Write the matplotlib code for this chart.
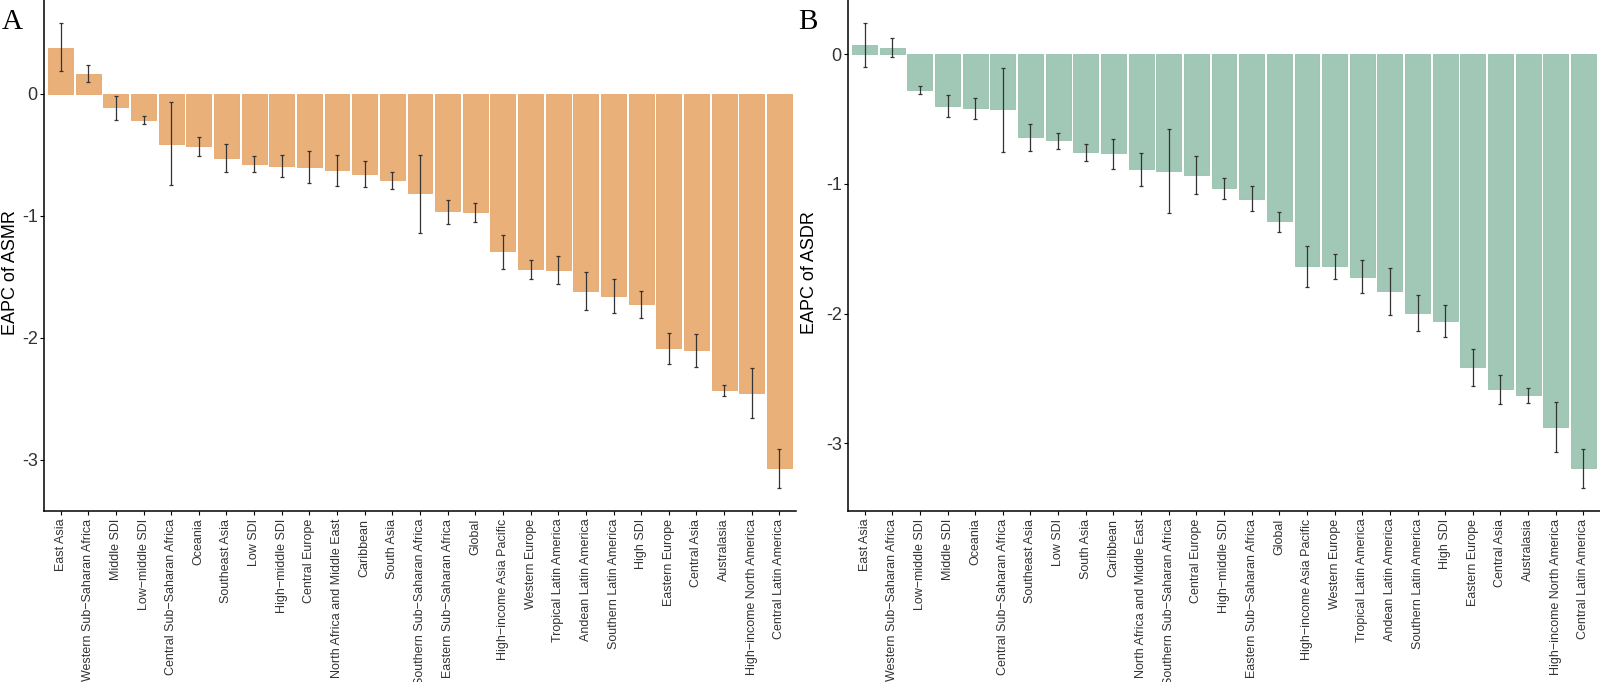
import matplotlib
matplotlib.use("Agg")
import matplotlib.pyplot as plt
import numpy as np

plt.rcParams['font.family'] = ['Liberation Sans', 'DejaVu Sans']

# ---------------- Panel A: EAPC of ASMR ----------------
cats_a = ["East Asia", "Western Sub\u2212Saharan Africa", "Middle SDI", "Low\u2212middle SDI",
          "Central Sub\u2212Saharan Africa", "Oceania", "Southeast Asia", "Low SDI",
          "High\u2212middle SDI", "Central Europe", "North Africa and Middle East", "Caribbean",
          "South Asia", "Southern Sub\u2212Saharan Africa", "Eastern Sub\u2212Saharan Africa", "Global",
          "High\u2212income Asia Pacific", "Western Europe", "Tropical Latin America",
          "Andean Latin America", "Southern Latin America", "High SDI", "Eastern Europe",
          "Central Asia", "Australasia", "High\u2212income North America", "Central Latin America"]
val_a = [0.38, 0.164, -0.11, -0.21, -0.41, -0.43, -0.525, -0.574, -0.59, -0.596, -0.623, -0.653,
         -0.705, -0.814, -0.962, -0.967, -1.29, -1.434, -1.443, -1.612, -1.656, -1.724, -2.079,
         -2.098, -2.426, -2.45, -3.066]
hi_a = [0.58, 0.24, -0.014, -0.18, -0.07, -0.355, -0.41, -0.51, -0.50, -0.467, -0.497, -0.546,
        -0.637, -0.50, -0.866, -0.891, -1.153, -1.361, -1.33, -1.456, -1.516, -1.612, -1.956,
        -1.967, -2.385, -2.25, -2.91]
lo_a = [0.19, 0.096, -0.21, -0.25, -0.75, -0.51, -0.64, -0.64, -0.68, -0.73, -0.754, -0.76,
        -0.78, -1.137, -1.063, -1.049, -1.432, -1.516, -1.557, -1.773, -1.798, -1.839, -2.21,
        -2.235, -2.473, -2.656, -3.227]

# ---------------- Panel B: EAPC of ASDR ----------------
cats_b = ["East Asia", "Western Sub\u2212Saharan Africa", "Low\u2212middle SDI", "Middle SDI",
          "Oceania", "Central Sub\u2212Saharan Africa", "Southeast Asia", "Low SDI", "South Asia",
          "Caribbean", "North Africa and Middle East", "Southern Sub\u2212Saharan Africa",
          "Central Europe", "High\u2212middle SDI", "Eastern Sub\u2212Saharan Africa", "Global",
          "High\u2212income Asia Pacific", "Western Europe", "Tropical Latin America",
          "Andean Latin America", "Southern Latin America", "High SDI", "Eastern Europe",
          "Central Asia", "Australasia", "High\u2212income North America", "Central Latin America"]
val_b = [0.067, 0.049, -0.278, -0.401, -0.416, -0.427, -0.64, -0.666, -0.758, -0.766, -0.889,
         -0.902, -0.930, -1.033, -1.113, -1.29, -1.635, -1.635, -1.714, -1.827, -1.994, -2.053,
         -2.411, -2.583, -2.627, -2.871, -3.192]
hi_b = [0.239, 0.126, -0.249, -0.316, -0.337, -0.105, -0.54, -0.609, -0.694, -0.655, -0.763,
        -0.581, -0.784, -0.954, -1.015, -1.218, -1.48, -1.537, -1.588, -1.647, -1.856, -1.933,
        -2.274, -2.472, -2.575, -2.681, -3.045]
lo_b = [-0.098, -0.023, -0.311, -0.486, -0.501, -0.753, -0.745, -0.73, -0.827, -0.882, -1.015,
        -1.221, -1.077, -1.113, -1.208, -1.37, -1.791, -1.735, -1.843, -2.012, -2.133, -2.177,
        -2.555, -2.696, -2.686, -3.066, -3.344]

yticks = [0, -1, -2, -3]

fig = plt.figure(figsize=(16, 6.82), dpi=100)
W, H = 1600, 682


def panel(rect, cats, vals, his, los, fill, edge, ylabel, ylim, letter, letter_x, label_x):
    ax = fig.add_axes(rect)
    x = np.arange(len(cats))
    vals = np.array(vals)
    lower = vals - np.array(los)
    upper = np.array(his) - vals
    ax.bar(x, vals, width=0.9, color=fill, edgecolor=edge, linewidth=0.6, zorder=2)
    ax.errorbar(x, vals, yerr=[lower, upper], fmt='none',
                ecolor='#333333', elinewidth=0.9, capsize=1.2, capthick=0.9, zorder=3)
    ax.set_xlim(-0.6, len(cats) - 0.4)
    ax.set_ylim(*ylim)
    ax.set_xticks(x)
    ax.set_xticklabels(cats, rotation=90, fontsize=9, color='#333333')
    ax.set_yticks(yticks)
    ax.set_yticklabels([str(t) if t == 0 else '-' + str(abs(t)) for t in yticks],
                       fontsize=13, color='#333333')
    ax.tick_params(axis='x', length=3, width=0.8, pad=2.5)
    ax.tick_params(axis='y', length=3, width=0.8, pad=1.5)
    for s in ['top', 'right']:
        ax.spines[s].set_visible(False)
    for s in ['left', 'bottom']:
        ax.spines[s].set_linewidth(1.1)
    ax.set_ylabel(ylabel, fontsize=13)
    ax.yaxis.label.set_va('center')
    ax.yaxis.set_label_coords(label_x, 0.466)
    fig.text(letter_x, 1 - 29 / H, letter, fontsize=21, family='Liberation Serif',
             ha='left', va='baseline')
    return ax


panel([44 / W, 1 - 511 / H, (796 - 44) / W, 511 / H], cats_a, val_a, hi_a, lo_a,
      '#E9B07A', '#E6A76E', 'EAPC of ASMR', (-3.418, 0.77), 'A', 2 / W, (11 - 44) / 752)
panel([848 / W, 1 - 511 / H, (1600 - 848) / W, 511 / H], cats_b, val_b, hi_b, lo_b,
      '#A1C8B6', '#97C0AD', 'EAPC of ASDR', (-3.52, 0.416), 'B', 798 / W, (809 - 848) / 752)

fig.savefig('out.png', dpi=100)
